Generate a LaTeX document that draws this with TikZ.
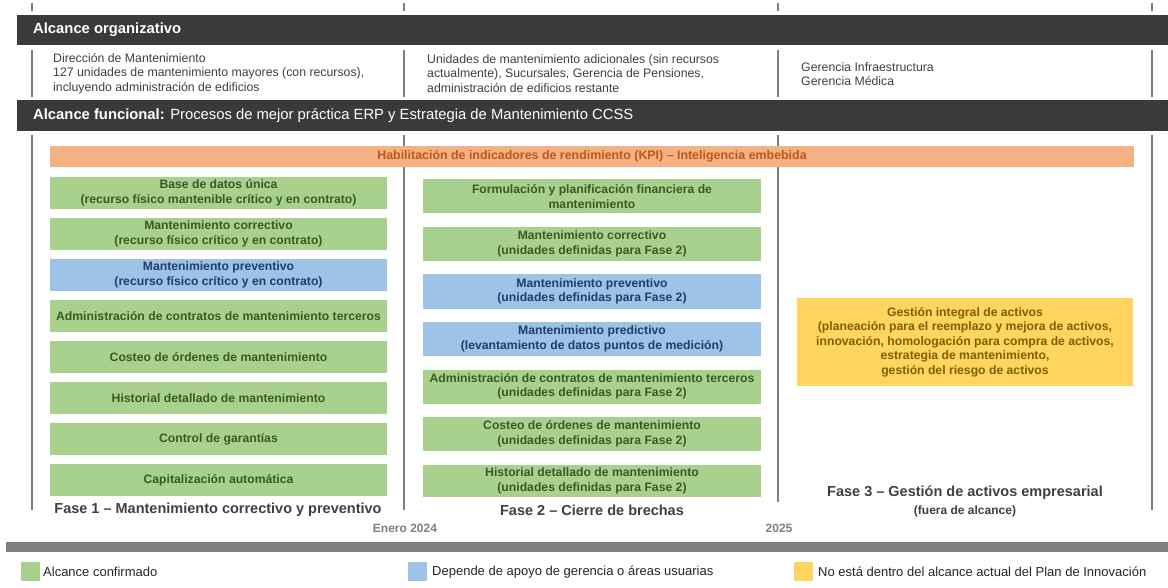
\documentclass[tikz,border=0pt]{standalone}
\usepackage{fontspec}
\setmainfont{Liberation Sans}
\definecolor{barfill}{HTML}{3A3A3A}
\definecolor{sepgray}{HTML}{7F7F7F}
\definecolor{okfill}{HTML}{A9D18E}
\definecolor{oktext}{HTML}{3A5A22}
\definecolor{depfill}{HTML}{9DC3E6}
\definecolor{deptext}{HTML}{203D6E}
\definecolor{outfill}{HTML}{FFD45F}
\definecolor{outtext}{HTML}{7F6000}
\definecolor{kpifill}{HTML}{F4B183}
\definecolor{kpitext}{HTML}{C0561A}
\definecolor{labgray}{HTML}{404040}

\begin{document}
\begin{tikzpicture}[x=1pt,y=-1pt,
  bartext/.style={text=white,anchor=west,inner sep=0pt,font=\fontsize{14.8}{17}\selectfont},
  orgtext/.style={text=labgray,anchor=west,align=left,inner sep=0pt,font=\fontsize{12.3}{14.5}\selectfont},
  sep/.style={draw=sepgray,line width=1.6pt},
  task/.style={fill=okfill,text=oktext,minimum height=32pt,inner sep=0pt,align=center,font=\fontsize{12.2}{14.5}\selectfont\bfseries},
  taskone/.style={task,minimum width=337pt},
  tasktwo/.style={task,minimum width=338pt,minimum height=34pt},
  dep/.style={fill=depfill,text=deptext},
  phase/.style={text=labgray,inner sep=0pt,font=\fontsize{14.5}{17}\selectfont\bfseries},
  datetext/.style={text=sepgray,inner sep=0pt,font=\fontsize{12}{14}\selectfont\bfseries},
  legbox/.style={minimum width=19pt,minimum height=19pt,inner sep=0pt},
  legtext/.style={text=black!85,anchor=west,inner sep=0pt,font=\fontsize{13}{15}\selectfont}]
\fill[white] (0,0) rectangle (1168,588);
\useasboundingbox (0,0) rectangle (1168,588);
% dark title bars
\fill[barfill] (17,15) rectangle (1168,45);
\node[bartext] (orgtitle) at (33,30) {\textbf{Alcance organizativo}};
\fill[barfill] (17,100) rectangle (1168,131);
\node[bartext] (functitle) at (33,115.5) {\textbf{Alcance funcional:} Procesos de mejor práctica ERP y Estrategia de Mantenimiento CCSS};
% column separators
\foreach \x in {32,404,778,1152} {
  \draw[sep] (\x,3) -- (\x,11);
  \draw[sep] (\x,50) -- (\x,97);
}
\foreach \x/\e in {32/510,404/510,778/502,1152/510}
  \draw[sep] (\x,135) -- (\x,\e);
% organizational scope
\node[orgtext] (orgone) at (53,73.5) {Dirección de Mantenimiento\\127 unidades de mantenimiento mayores (con recursos),\\incluyendo administración de edificios};
\node[orgtext] (orgtwo) at (427,73.5) {Unidades de mantenimiento adicionales (sin recursos\\actualmente), Sucursales, Gerencia de Pensiones,\\administración de edificios restante};
\node[orgtext] (orgthree) at (801,74) {Gerencia Infraestructura\\Gerencia Médica};
% KPI bar
\node[task,fill=kpifill,text=kpitext,minimum width=1084pt,minimum height=21pt,font=\fontsize{12.4}{14.5}\selectfont\bfseries] (kpi) at (592,156.5) {Habilitación de indicadores de rendimiento (KPI) – Inteligencia embebida};
% Fase 1
\node[taskone] (c1a) at (218.5,193) {Base de datos única\\(recurso físico mantenible crítico y en contrato)};
\node[taskone] (c1b) at (218.5,234) {Mantenimiento correctivo\\(recurso físico crítico y en contrato)};
\node[taskone,dep] (c1c) at (218.5,275) {Mantenimiento preventivo\\(recurso físico crítico y en contrato)};
\node[taskone] (c1d) at (218.5,316) {Administración de contratos de mantenimiento terceros};
\node[taskone] (c1e) at (218.5,357) {Costeo de órdenes de mantenimiento};
\node[taskone] (c1f) at (218.5,398) {Historial detallado de mantenimiento};
\node[taskone] (c1g) at (218.5,439) {Control de garantías};
\node[taskone] (c1h) at (218.5,480) {Capitalización automática};
% Fase 2
\node[tasktwo] (c2a) at (592,196.5) {Formulación y planificación financiera de\\mantenimiento};
\node[tasktwo] (c2b) at (592,244) {Mantenimiento correctivo\\(unidades definidas para Fase 2)};
\node[tasktwo,dep] (c2c) at (592,291.5) {Mantenimiento preventivo\\(unidades definidas para Fase 2)};
\node[tasktwo,dep] (c2d) at (592,339) {Mantenimiento predictivo\\(levantamiento de datos puntos de medición)};
\node[tasktwo] (c2e) at (592,386.5) {Administración de contratos de mantenimiento terceros\\(unidades definidas para Fase 2)};
\node[tasktwo] (c2f) at (592,434) {Costeo de órdenes de mantenimiento\\(unidades definidas para Fase 2)};
\node[tasktwo,minimum height=32pt] (c2g) at (592,481) {Historial detallado de mantenimiento\\(unidades definidas para Fase 2)};
% Fase 3
\node[task,fill=outfill,text=outtext,minimum width=336pt,minimum height=88pt] (c3a) at (965,342) {Gestión integral de activos\\(planeación para el reemplazo y mejora de activos,\\innovación, homologación para compra de activos,\\estrategia de mantenimiento,\\gestión del riesgo de activos};
% phase labels and dates
\node[phase] (faseone) at (218,510) {Fase 1 – Mantenimiento correctivo y preventivo};
\node[phase] (fasetwo) at (592,510) {Fase 2 – Cierre de brechas};
\node[phase] (fasethree) at (965,493) {Fase 3 – Gestión de activos empresarial};
\node[phase,font=\fontsize{12}{14}\selectfont\bfseries] (fasenote) at (965,511) {(fuera de alcance)};
\node[datetext] (enero) at (405,528) {Enero 2024};
\node[datetext] (anio) at (779,528) {2025};
\fill[sepgray] (6,542) rectangle (1168,552);
% legend
\node[legbox,fill=okfill] (legok) at (30,571.5) {};
\node[legtext] (legoktext) at (43,572) {Alcance confirmado};
\node[legbox,fill=depfill] (legdep) at (417,571.5) {};
\node[legtext] (legdeptext) at (432,572) {Depende de apoyo de gerencia o áreas usuarias};
\node[legbox,fill=outfill] (legout) at (803.5,571.5) {};
\node[legtext] (legouttext) at (818,572) {No está dentro del alcance actual del Plan de Innovación};
\end{tikzpicture}
\end{document}
